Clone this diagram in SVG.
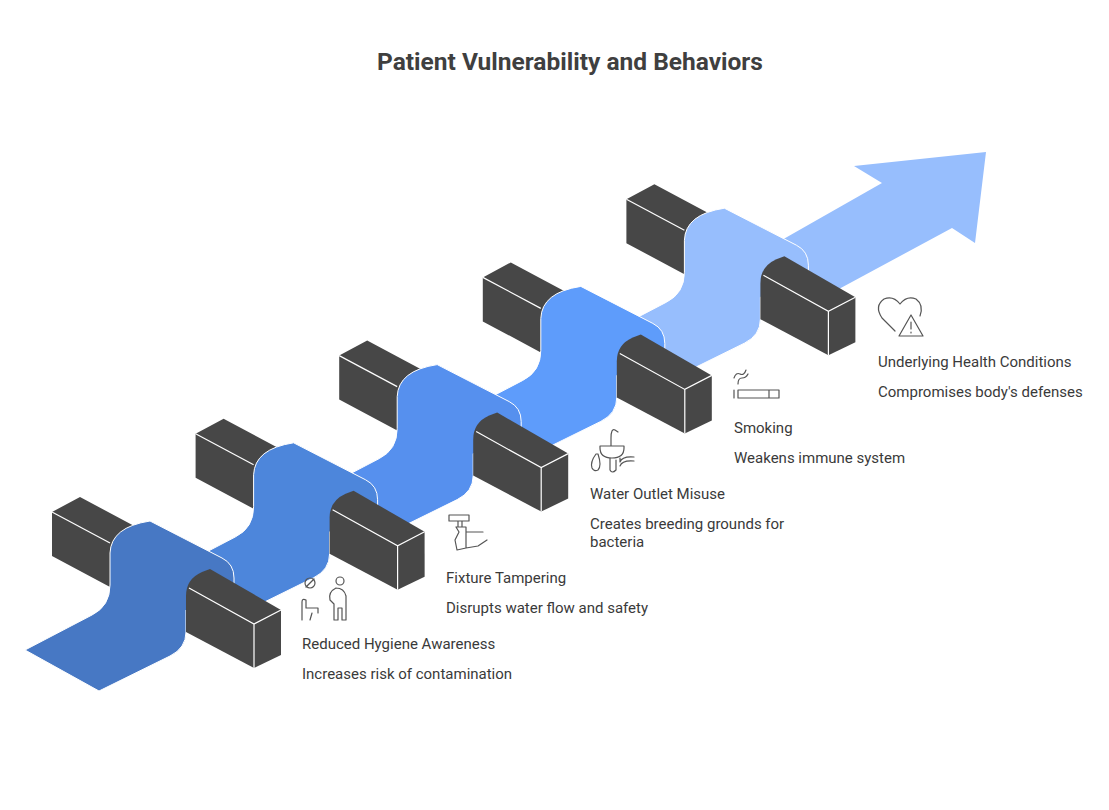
<svg xmlns="http://www.w3.org/2000/svg" xmlns:xlink="http://www.w3.org/1999/xlink" width="1109" height="810" viewBox="0 0 1109 810">
<style>
.blk{fill:#474747;stroke:none}
.edge{fill:none;stroke:#fff;stroke-width:1.2}
.rib{stroke:#fff;stroke-width:1}
.t{font-family:Roboto,"Liberation Sans",sans-serif;font-size:15px;fill:#3a3a3a}
.ic{fill:none;stroke:#555;stroke-width:1.2;stroke-linecap:round;stroke-linejoin:round}
</style>
<defs>
<g id="unit">
<path class="blk" d="M52,556 L52,512 L80,497 L138,528 L118,592 L110,587 Z"/>
<path class="edge" d="M52,512 L110,543"/>
<path class="rib" d="M25,650 L92,615 Q110,606 110,585 L110,553 Q111,527 150,521 L222,558 Q234,564 234,578 L234,610 L186,610 L186,632 Q186,648 170,656 L99,691 Z"/>
<path class="blk" d="M186,632 L186,596 Q186,579 202,572 L210,569 L281,610 L281,655 L254,668 Z"/>
<path class="edge" d="M189,588 L254,624 L281,610 M254,624 L254,668"/>
</g>
</defs>
<text x="570" y="70" text-anchor="middle" style="font-family:Roboto,'Liberation Sans',sans-serif;font-size:24.5px;font-weight:bold;fill:#3f3f3f">Patient Vulnerability and Behaviors</text>
<g id="connectors">
<path id="arrow" fill="#97BEFD" d="M780,241 L882,183 L854,166 L986,152 L975,243 L952,228 L800,310 Z"/>
</g>
<g id="node5"><use xlink:href="#unit" href="#unit" fill="#97BEFD" transform="translate(574.4,-312.8)"/></g>
<g id="node4"><use xlink:href="#unit" href="#unit" fill="#5E9CFB" transform="translate(430.8,-234.6)"/></g>
<g id="node3"><use xlink:href="#unit" href="#unit" fill="#5690EE" transform="translate(287.2,-156.4)"/></g>
<g id="node2"><use xlink:href="#unit" href="#unit" fill="#4D86DB" transform="translate(143.6,-78.2)"/></g>
<g id="node1"><use xlink:href="#unit" href="#unit" fill="#4778C4"/></g>

<g id="label1">
<circle class="ic" cx="310" cy="583" r="5"/><path class="ic" d="M306,587 L314,579"/>
<circle class="ic" cx="340" cy="581" r="4"/>
<path class="ic" d="M302,620 L302,602 Q302,598 306,600 L306,608 L318,608 L318,613 M312,613 L310,620 M336,588 Q328,592 330,600 L334,604 L334,620 L338,620 L338,608 L342,608 L342,620 L346,620 L346,596 Q344,588 336,588"/>
<text class="t" x="302" y="649">Reduced Hygiene Awareness</text>
<text class="t" x="302" y="679">Increases risk of contamination</text>
</g>
<g id="label2">
<path class="ic" d="M449,515 L469,515 L469,521 L449,521 Z M458,521 L458,527 M462,521 L462,527 M456,527 L466,527 L466,548 L457,550 L455,540 L459,532 L456,527 M466,532 L483,532 M466,548 L478,546 L487,540"/>
<text class="t" x="446" y="583">Fixture Tampering</text>
<text class="t" x="446" y="613">Disrupts water flow and safety</text>
</g>
<g id="label3">
<path class="ic" d="M611,438 Q611,428 615,430 L618,432 M611,438 L611,446 M600,446 L624,446 L624,448 Q624,458 612,458 Q600,458 600,448 Z M610,458 L610,470 Q612,474 616,470 L616,460 M620,458 L620,462 Q622,456 634,457 M620,466 Q622,460 634,461 M596,454 Q590,462 592,468 Q594,472 598,470 Q602,466 598,454 Z"/>
<text class="t" x="590" y="499">Water Outlet Misuse</text>
<text class="t" x="590" y="529">Creates breeding grounds for</text>
<text class="t" x="590" y="547">bacteria</text>
</g>
<g id="label4">
<path class="ic" d="M734,378 Q736,372 740,374 Q744,376 746,370 M738,384 Q738,378 742,378 Q746,378 748,374 M734,390 L734,398 M738,390 L779,390 L779,398 L738,398 Z M769,390 L769,398"/>
<text class="t" x="734" y="433">Smoking</text>
<text class="t" x="734" y="463">Weakens immune system</text>
</g>
<g id="label5">
<path class="ic" d="M895,331 L882,318 Q874,306 884,299 Q893,295 900,304 Q907,295 916,299 Q924,305 920,316 M911,315 L899,336 L923,336 Z M911,322 L911,329 M911,332 L911,333"/>
<text class="t" x="878" y="367">Underlying Health Conditions</text>
<text class="t" x="878" y="397">Compromises body's defenses</text>
</g>
</svg>
